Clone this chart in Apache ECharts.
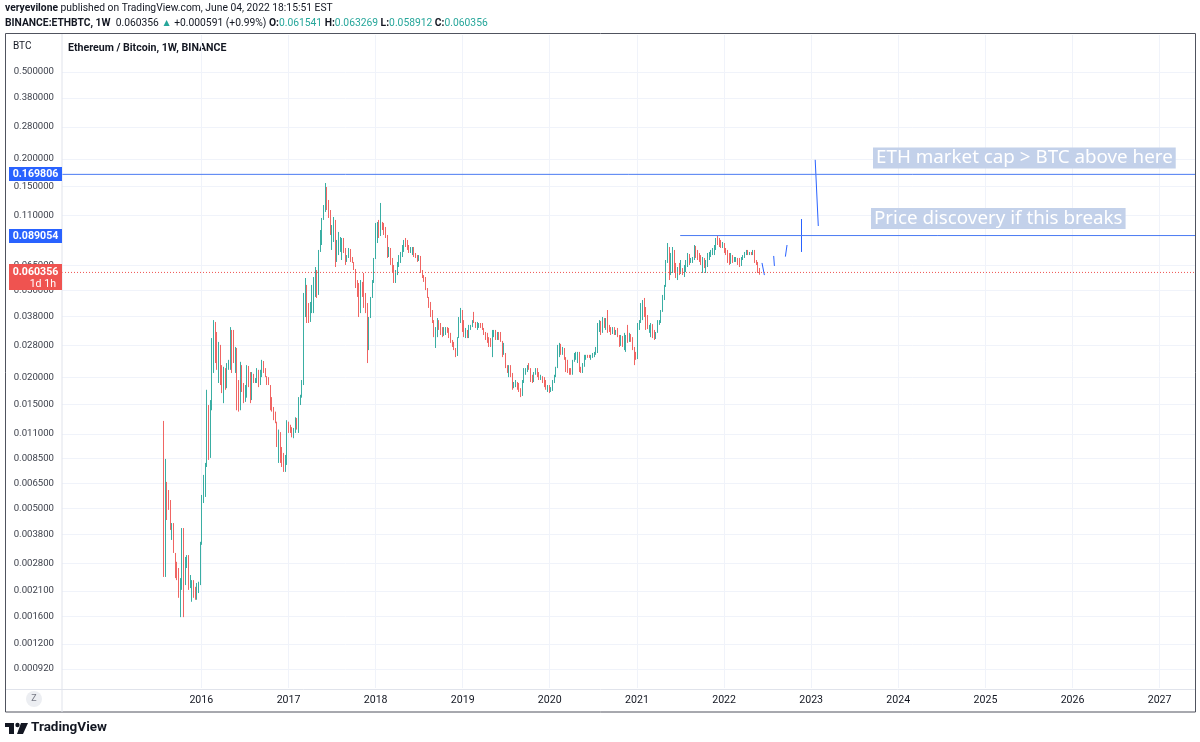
<!DOCTYPE html>
<html><head><meta charset="utf-8">
<script src="https://cdn.jsdelivr.net/npm/echarts@6/dist/echarts.min.js"></script>
<style>html,body{margin:0;padding:0;background:#fff;}#c{width:1200px;height:742px;}</style>
</head><body><div id="c"></div>
<script>
// ---- data (weekly ETH/BTC candles) ----
const firstWeek = '2015-07-27';
const firstOpen = 0.0126;
const weeklyClose = [
0.00243,0.00662,0.00547,0.00493,0.00399,0.00429,0.00313,0.00240,0.00235,0.00195,
0.00240,0.00407,0.00223,0.00297,0.00306,0.00216,0.00219,0.00235,0.00199,0.00191,
0.00223,0.00228,0.00352,0.00577,0.00713,0.00792,0.0149,0.00853,0.0154,0.0296,
0.0347,0.0240,0.0220,0.0281,0.0188,0.0173,0.0220,0.0178,0.0230,0.0240,
0.0329,0.0266,0.0235,0.0272,0.0157,0.0141,0.0227,0.0175,0.0154,0.0161,
0.0225,0.0211,0.0157,0.0207,0.0190,0.0196,0.0216,0.0184,0.0211,0.0237,
0.0218,0.0202,0.0190,0.0184,0.0144,0.0140,0.0130,0.0125,0.00978,0.0112,
0.00835,0.00817,0.00783,0.0088,0.0125,0.0117,0.0112,0.0107,0.0116,0.0130,
0.0127,0.0157,0.0164,0.0190,0.0476,0.0529,0.0365,0.0358,0.0428,0.0476,
0.0546,0.0619,0.0476,0.0749,0.0925,0.105,0.120,0.1471,0.1229,0.1106,
0.0915,0.0975,0.105,0.0674,0.0725,0.0765,0.0850,0.0868,0.0749,0.0674,
0.0703,0.0773,0.0688,0.0674,0.0626,0.0523,0.0476,0.0406,0.0546,0.0476,
0.0428,0.0398,0.0312,0.0373,0.0461,0.0551,0.0695,0.0995,0.1017,0.0886,
0.0985,0.0954,0.0905,0.0877,0.0718,0.0781,0.0667,0.0619,0.0551,0.0613,
0.0667,0.0718,0.0741,0.0798,0.0841,0.0806,0.0773,0.0749,0.0781,0.0789,
0.0718,0.0703,0.0681,0.0718,0.0606,0.0575,0.0551,0.0507,0.0466,0.0419,
0.0381,0.0358,0.0312,0.0336,0.0365,0.0332,0.0315,0.0309,0.0336,0.0339,
0.0336,0.0312,0.0290,0.0278,0.0269,0.0250,0.0302,0.0373,0.0406,0.0336,
0.0312,0.0329,0.0309,0.0343,0.0347,0.0362,0.0358,0.0339,0.0354,0.0354,
0.0350,0.0332,0.0315,0.0299,0.0290,0.0278,0.0275,0.0325,0.0329,0.0319,
0.0322,0.0302,0.0293,0.0253,0.0255,0.0225,0.0211,0.0225,0.0202,0.0178,
0.0180,0.0182,0.0176,0.0173,0.0164,0.0192,0.0218,0.0220,0.0227,0.0218,
0.0194,0.0190,0.0209,0.0218,0.0202,0.0196,0.0202,0.0190,0.0182,0.0176,
0.0182,0.0171,0.0173,0.0192,0.0202,0.0220,0.0278,0.0284,0.0258,0.0272,
0.0242,0.0216,0.0211,0.0207,0.0205,0.0237,0.0255,0.0258,0.0261,0.0216,
0.0209,0.0230,0.0250,0.0253,0.0247,0.0245,0.0250,0.0255,0.0261,0.0272,
0.0347,0.0362,0.0319,0.0373,0.0339,0.0369,0.0329,0.0325,0.0315,0.0319,
0.0312,0.0322,0.0309,0.0278,0.0309,0.0275,0.0296,0.0312,0.0290,0.0315,
0.0293,0.0269,0.0245,0.0242,0.0347,0.0362,0.0428,0.0447,0.0385,0.0336,
0.0332,0.0343,0.0350,0.0305,0.0299,0.0319,0.0362,0.0365,0.0402,0.0471,
0.0523,0.0674,0.0781,0.0587,0.0600,0.0765,0.0619,0.0575,0.0632,0.0594,
0.0600,0.0587,0.0646,0.0681,0.0733,0.0703,0.0703,0.0710,0.0798,0.0718,
0.0695,0.0681,0.0660,0.0703,0.0639,0.0681,0.0733,0.0749,0.0765,0.0781,
0.0806,0.0859,0.0815,0.0798,0.0789,0.0823,0.0749,0.0733,0.0674,0.0660,
0.0725,0.0674,0.0681,0.0703,0.0660,0.0646,0.0703,0.0718,0.0741,0.0757,
0.0733,0.0749,0.0733,0.0765,0.0674,0.0660,0.061541,0.060356
];
const weeklyHigh = [
0.0126,0.00844,0.00662,0.00608,0.00547,0.00429,0.00420,0.00313,0.00285,0.00267,
0.00240,0.00407,0.00333,0.00300,0.00306,0.00300,0.00248,0.00235,0.00231,0.00219,
0.00228,0.00231,0.00352,0.00577,0.00713,0.00809,0.0175,0.0131,0.0157,0.0302,
0.0365,0.0358,0.0322,0.0290,0.0275,0.0227,0.0223,0.0216,0.0232,0.0240,
0.0339,0.0329,0.0329,0.0275,0.0258,0.0194,0.0235,0.0220,0.0188,0.0184,
0.0227,0.0216,0.0200,0.0211,0.0198,0.0198,0.0220,0.0198,0.0216,0.0240,
0.0220,0.0220,0.0200,0.0200,0.0184,0.0162,0.0146,0.0139,0.0123,0.0115,
0.00998,0.00957,0.00899,0.0088,0.0127,0.0118,0.0121,0.0118,0.0117,0.0131,
0.0130,0.0162,0.0166,0.0194,0.0486,0.0569,0.0529,0.0437,0.0442,0.0529,
0.0575,0.0639,0.0606,0.0765,0.0944,0.1072,0.1229,0.1550,0.1486,0.1296,
0.1166,0.0995,0.1083,0.0850,0.0850,0.0925,0.0877,0.0868,0.0832,0.0781,
0.0725,0.0781,0.0765,0.0710,0.0674,0.0619,0.0557,0.0540,0.0557,0.0546,
0.0600,0.0486,0.0437,0.0377,0.0466,0.0557,0.0703,0.1017,0.1028,0.105,
0.1256,0.1028,0.1017,0.0975,0.0896,0.0789,0.0765,0.0703,0.0653,0.0619,
0.0674,0.0725,0.0749,0.0806,0.0850,0.0868,0.0850,0.0806,0.0789,0.0789,
0.0765,0.0741,0.0725,0.0725,0.0703,0.0619,0.0587,0.0575,0.0512,0.0461,
0.0442,0.0406,0.0365,0.0339,0.0373,0.0358,0.0354,0.0339,0.0339,0.0339,
0.0336,0.0336,0.0319,0.0296,0.0290,0.0272,0.0305,0.0377,0.0415,0.0385,
0.0365,0.0336,0.0329,0.0347,0.0347,0.0365,0.0398,0.0358,0.0358,0.0354,
0.0354,0.0354,0.0336,0.0322,0.0319,0.0305,0.0302,0.0329,0.0329,0.0322,
0.0322,0.0322,0.0322,0.0290,0.0287,0.0258,0.0227,0.0227,0.0227,0.0209,
0.0190,0.0194,0.0190,0.0188,0.0178,0.0194,0.0220,0.0220,0.0227,0.0232,
0.0220,0.0205,0.0211,0.0220,0.0220,0.0211,0.0205,0.0200,0.0200,0.0194,
0.0184,0.0184,0.0180,0.0194,0.0205,0.0223,0.0281,0.0287,0.0281,0.0275,
0.0272,0.0247,0.0240,0.0220,0.0220,0.0240,0.0258,0.0261,0.0261,0.0245,
0.0223,0.0232,0.0253,0.0253,0.0253,0.0253,0.0253,0.0258,0.0261,0.0275,
0.0354,0.0365,0.0354,0.0377,0.0373,0.0373,0.0406,0.0347,0.0339,0.0339,
0.0339,0.0329,0.0336,0.0312,0.0312,0.0302,0.0319,0.0312,0.0347,0.0319,
0.0312,0.0305,0.0275,0.0261,0.0354,0.0365,0.0437,0.0451,0.0461,0.0419,
0.0385,0.0347,0.0354,0.0339,0.0329,0.0322,0.0365,0.0365,0.0406,0.0476,
0.0529,0.0688,0.0823,0.0789,0.0741,0.0789,0.0710,0.0667,0.0639,0.0667,
0.0688,0.0632,0.0653,0.0688,0.0741,0.0710,0.0703,0.0710,0.0806,0.0789,
0.0765,0.0741,0.0725,0.0710,0.0674,0.0688,0.0741,0.0749,0.0765,0.0781,
0.0806,0.0868,0.0886,0.0868,0.0850,0.0832,0.0806,0.0781,0.0765,0.0741,
0.0741,0.0725,0.0710,0.0710,0.0703,0.0703,0.0710,0.0725,0.0749,0.0765,
0.0765,0.0749,0.0749,0.0765,0.0749,0.0688,0.0674,0.063269
];
const weeklyLow = [
0.00243,0.00248,0.00443,0.00493,0.00399,0.00359,0.00313,0.00240,0.00235,0.00195,
0.00159,0.00212,0.00159,0.00243,0.00267,0.00212,0.00219,0.00187,0.00195,0.00191,
0.00197,0.00205,0.00223,0.00341,0.00530,0.00565,0.00775,0.00835,0.0106,0.0141,
0.0209,0.0232,0.0216,0.0188,0.0184,0.0169,0.0152,0.0175,0.0194,0.0216,
0.0216,0.0209,0.0232,0.0209,0.0141,0.0139,0.0144,0.0171,0.0152,0.0157,
0.0162,0.0180,0.0152,0.0188,0.0188,0.0188,0.0188,0.0180,0.0188,0.0200,
0.0209,0.0200,0.0184,0.0184,0.0141,0.0139,0.0127,0.0123,0.00957,0.00809,
0.00809,0.00775,0.00736,0.00736,0.00792,0.0111,0.0111,0.0106,0.0105,0.0111,
0.0115,0.0111,0.0149,0.0161,0.0184,0.0377,0.0354,0.0354,0.0358,0.0393,
0.0393,0.0466,0.0461,0.0501,0.0765,0.0806,0.105,0.1142,0.1166,0.1072,
0.0896,0.0765,0.0832,0.0639,0.0674,0.0741,0.0749,0.0688,0.0741,0.0653,
0.0688,0.0703,0.0674,0.0667,0.0619,0.0512,0.0466,0.0377,0.0393,0.0466,
0.0415,0.0393,0.0232,0.0266,0.0393,0.0466,0.0540,0.0765,0.0823,0.0868,
0.0964,0.0944,0.0896,0.0868,0.0703,0.0710,0.0653,0.0606,0.0540,0.0540,
0.0587,0.0639,0.0667,0.0710,0.0749,0.0789,0.0765,0.0741,0.0741,0.0725,
0.0710,0.0703,0.0674,0.0688,0.0600,0.0569,0.0546,0.0501,0.0461,0.0415,
0.0377,0.0354,0.0305,0.0272,0.0305,0.0329,0.0312,0.0305,0.0319,0.0312,
0.0319,0.0302,0.0287,0.0275,0.0266,0.0247,0.0261,0.0312,0.0354,0.0322,
0.0305,0.0302,0.0302,0.0302,0.0329,0.0339,0.0354,0.0336,0.0329,0.0336,
0.0336,0.0329,0.0312,0.0296,0.0287,0.0275,0.0275,0.0247,0.0305,0.0296,
0.0296,0.0296,0.0290,0.0247,0.0253,0.0220,0.0209,0.0200,0.0200,0.0175,
0.0178,0.0180,0.0175,0.0171,0.0162,0.0180,0.0188,0.0205,0.0211,0.0216,
0.0190,0.0188,0.0198,0.0205,0.0200,0.0194,0.0194,0.0188,0.0180,0.0175,
0.0171,0.0169,0.0171,0.0180,0.0188,0.0200,0.0232,0.0247,0.0253,0.0253,
0.0240,0.0211,0.0209,0.0205,0.0205,0.0216,0.0235,0.0240,0.0232,0.0211,
0.0209,0.0211,0.0223,0.0240,0.0245,0.0245,0.0240,0.0245,0.0247,0.0253,
0.0258,0.0322,0.0312,0.0329,0.0336,0.0329,0.0319,0.0322,0.0312,0.0319,
0.0312,0.0312,0.0305,0.0275,0.0281,0.0275,0.0266,0.0261,0.0287,0.0296,
0.0290,0.0266,0.0227,0.0240,0.0287,0.0329,0.0354,0.0365,0.0377,0.0329,
0.0332,0.0319,0.0305,0.0302,0.0296,0.0302,0.0319,0.0347,0.0354,0.0398,
0.0451,0.0518,0.0667,0.0557,0.0600,0.0619,0.0600,0.0569,0.0557,0.0587,
0.0600,0.0587,0.0575,0.0606,0.0639,0.0653,0.0667,0.0667,0.0688,0.0703,
0.0688,0.0674,0.0653,0.0600,0.0632,0.0600,0.0639,0.0688,0.0710,0.0725,
0.0725,0.0765,0.0806,0.0789,0.0781,0.0781,0.0741,0.0725,0.0667,0.0653,
0.0667,0.0667,0.0674,0.0674,0.0653,0.0639,0.0667,0.0688,0.0703,0.0725,
0.0725,0.0725,0.0725,0.0725,0.0667,0.0653,0.0600,0.058912
];
const priceTicks = [0.5,0.38,0.28,0.2,0.15,0.11,0.065,0.05,0.038,0.028,0.02,0.015,0.011,0.0085,0.0065,0.005,0.0038,0.0028,0.0021,0.0016,0.0012,0.00092];
const yearTicks = [2016,2017,2018,2019,2020,2021,2022,2023,2024,2025,2026,2027];
const marketCapLevel = 0.169806;
const discoveryLevel = 0.089054;
const discoveryStart = '2021-07-01';
const lastPrice = 0.060356;
const lastBarCountdown = '1d 1h';
const forecastSegments = [
  [['2022-06-09',0.0667],['2022-06-19',0.0587]],
  [['2022-07-28',0.0718],['2022-07-31',0.0646]],
  [['2022-09-22',0.0806],['2022-09-15',0.0713]],
  [['2022-11-21',0.106],['2022-11-21',0.0749]],
  [['2023-01-18',0.198],['2023-01-31',0.0985]]
];
const xStart = '2014-05-27', xEnd = '2027-06-01';
const yMin = 0.000753, yMax = 0.7387;

// ---- build ----
const DAY = 86400000;
const T = s => Date.parse(s + 'T00:00:00Z');
const t0 = T(firstWeek);
const candles = weeklyClose.map((c, i) => {
  const o = i === 0 ? firstOpen : weeklyClose[i - 1];
  const h = Math.max(weeklyHigh[i], o, c);
  const l = Math.min(weeklyLow[i], o, c);
  return [t0 + i * 7 * DAY, o, c, l, h];
});
const yearStamps = yearTicks.map(y => Date.UTC(y, 0, 1));
const FONT = 'Roboto';
const TXT = '#131722';
const GREEN = '#26a69a', RED = '#ef5350', BLUE = '#2962ff', LINEBLUE = '#4b7bf3';
const HDR = 10.3;

const chart = echarts.init(document.getElementById('c'), null, {renderer: 'canvas'});

const baseGraphic = [
  {type: 'rect', silent: true, z: 100, shape: {x: 5.5, y: 33.5, width: 1190, height: 678.5}, style: {fill: 'none', stroke: '#50535e', lineWidth: 1}},
  {type: 'line', silent: true, z: 100, shape: {x1: 62, y1: 34, x2: 62, y2: 712}, style: {stroke: '#e0e3eb', lineWidth: 1}},
  {type: 'line', silent: true, z: 100, shape: {x1: 6, y1: 689.5, x2: 1195, y2: 689.5}, style: {stroke: '#e0e3eb', lineWidth: 1}},
  {type: 'text', left: 5, top: 3, silent: true, style: {
    text: '{b|veryevilone} published on TradingView.com, June 04, 2022 18:15:51 EST',
    fontFamily: FONT, fontSize: HDR, fill: TXT,
    rich: {b: {fontWeight: 'bold', fontFamily: FONT, fontSize: HDR, fill: TXT}}}},
  {type: 'text', left: 5, top: 18, silent: true, style: {
    text: '{b|BINANCE:ETHBTC, 1W}  0.060356 {g|▲} +0.000591 (+0.99%) {b|O:}{g|0.061541} {b|H:}{g|0.063269} {b|L:}{g|0.058912} {b|C:}{g|0.060356}',
    fontFamily: FONT, fontSize: HDR, fill: TXT,
    rich: {b: {fontWeight: 'bold', fontFamily: FONT, fontSize: HDR, fill: TXT},
           g: {fontFamily: FONT, fontSize: HDR, fill: GREEN}}}},
  {type: 'text', left: 13, top: 41, silent: true, style: {text: 'BTC', fontFamily: FONT, fontSize: 10, fill: TXT}},
  {type: 'text', left: 68, top: 43, silent: true, style: {text: 'Ethereum / Bitcoin, 1W, BINANCE', fontFamily: FONT, fontSize: 10.6, fontWeight: 'bold', fill: TXT}},
  {type: 'circle', silent: true, shape: {cx: 34, cy: 699, r: 8}, style: {fill: '#eceef2'}},
  {type: 'text', silent: true, x: 34, y: 699, style: {text: 'Z', fontFamily: FONT, fontSize: 9, fill: '#787b86', align: 'center', verticalAlign: 'middle'}},
  {type: 'text', silent: true, x: 873, y: 158, z: 50, style: {text: 'ETH market cap > BTC above here', fontFamily: 'Noto Sans', fontSize: 18.8, fill: '#ffffff', verticalAlign: 'middle', backgroundColor: '#c3d1ea', padding: [1, 3, 1, 3]}},
  {type: 'text', silent: true, x: 871, y: 218.5, z: 50, style: {text: 'Price discovery if this breaks', fontFamily: 'Noto Sans', fontSize: 18.8, fill: '#ffffff', verticalAlign: 'middle', backgroundColor: '#c3d1ea', padding: [1, 3, 1, 3]}},
  {type: 'rect', silent: true, shape: {x: 5, y: 723, width: 9, height: 4}, style: {fill: '#131722'}},
  {type: 'rect', silent: true, shape: {x: 9, y: 723, width: 5, height: 11}, style: {fill: '#131722'}},
  {type: 'circle', silent: true, shape: {cx: 17.5, cy: 725, r: 2.2}, style: {fill: '#131722'}},
  {type: 'polygon', silent: true, shape: {points: [[21, 723], [28, 723], [23, 734], [17, 734]]}, style: {fill: '#131722'}},
  {type: 'text', silent: true, left: 31, top: 721, style: {text: 'TradingView', fontFamily: FONT, fontSize: 13.5, fontWeight: 'bold', fill: '#131722'}}
];

chart.setOption({
  animation: false,
  backgroundColor: '#ffffff',
  grid: {left: 62, right: 4.4, top: 35, bottom: 54, containLabel: false},
  xAxis: {
    type: 'value', min: T(xStart), max: T(xEnd), scale: true,
    axisLine: {show: false}, axisTick: {show: false, customValues: yearStamps},
    axisLabel: {customValues: yearStamps, formatter: v => String(new Date(v).getUTCFullYear()),
      color: TXT, fontFamily: FONT, fontSize: 10.6, margin: 7},
    splitLine: {show: true, lineStyle: {color: '#f0f3fa', width: 1}}
  },
  yAxis: {
    type: 'log', logBase: 10, min: yMin, max: yMax, position: 'left',
    axisLine: {show: false}, axisTick: {show: false, customValues: priceTicks},
    axisLabel: {customValues: priceTicks, formatter: v => Number(v).toFixed(6),
      color: '#3b3f4a', fontFamily: FONT, fontSize: 9.6, margin: 8},
    splitLine: {show: true, lineStyle: {color: '#f0f3fa', width: 1}}
  },
  series: [
    {
      type: 'candlestick', data: candles, encode: {x: 0, y: [1, 2, 3, 4]},
      barWidth: 1, clip: true,
      itemStyle: {color: '#93d4cc', color0: '#f6a5a3', borderColor: '#3aaea3', borderColor0: '#f06563', borderWidth: 1}
    },
    {
      type: 'line', data: [[T(xStart), marketCapLevel], [T(xEnd), marketCapLevel]], symbol: 'none', silent: true,
      lineStyle: {color: LINEBLUE, width: 1, type: 'solid'}, z: 4
    },
    {
      type: 'line', data: [[T(discoveryStart), discoveryLevel], [T(xEnd), discoveryLevel]], symbol: 'none', silent: true,
      lineStyle: {color: LINEBLUE, width: 1, type: 'solid'}, z: 4
    },
    {
      type: 'line', data: [[T(xStart), lastPrice], [T(xEnd), lastPrice]], symbol: 'none', silent: true,
      lineStyle: {color: RED, width: 1, type: [1, 2]}, z: 4
    },
    {
      type: 'lines', coordinateSystem: 'cartesian2d', polyline: false, silent: true,
      lineStyle: {color: BLUE, width: 1, opacity: 1},
      data: forecastSegments.map(seg => ({coords: seg.map(p => [T(p[0]), p[1]])}))
    }
  ],
  graphic: baseGraphic
});

// price tags on the axis, placed at the axis positions of their levels
const yPix = v => chart.convertToPixel({yAxisIndex: 0}, v);
const tagGraphic = [];
[[marketCapLevel, BLUE], [discoveryLevel, BLUE]].forEach(([v, bg]) => {
  const y = Math.round(yPix(v));
  tagGraphic.push({type: 'rect', silent: true, z: 110, shape: {x: 9, y: y - 7, width: 53, height: 14}, style: {fill: bg}});
  tagGraphic.push({type: 'text', silent: true, z: 111, x: 35.5, y: y, style: {text: v.toFixed(6), fontFamily: FONT, fontSize: 10.6, fontWeight: 'bold', fill: '#fff', align: 'center', verticalAlign: 'middle'}});
});
{
  const y = Math.round(yPix(lastPrice));
  tagGraphic.push({type: 'rect', silent: true, z: 110, shape: {x: 9, y: y - 8, width: 53, height: 26}, style: {fill: RED}});
  tagGraphic.push({type: 'text', silent: true, z: 111, x: 35.5, y: y, style: {text: lastPrice.toFixed(6), fontFamily: FONT, fontSize: 10.6, fontWeight: 'bold', fill: '#fff', align: 'center', verticalAlign: 'middle'}});
  tagGraphic.push({type: 'text', silent: true, z: 111, x: 56, y: y + 12, style: {text: lastBarCountdown, fontFamily: FONT, fontSize: 10.6, fill: '#fff', align: 'right', verticalAlign: 'middle'}});
}
chart.setOption({graphic: baseGraphic.concat(tagGraphic)});
</script></body></html>
